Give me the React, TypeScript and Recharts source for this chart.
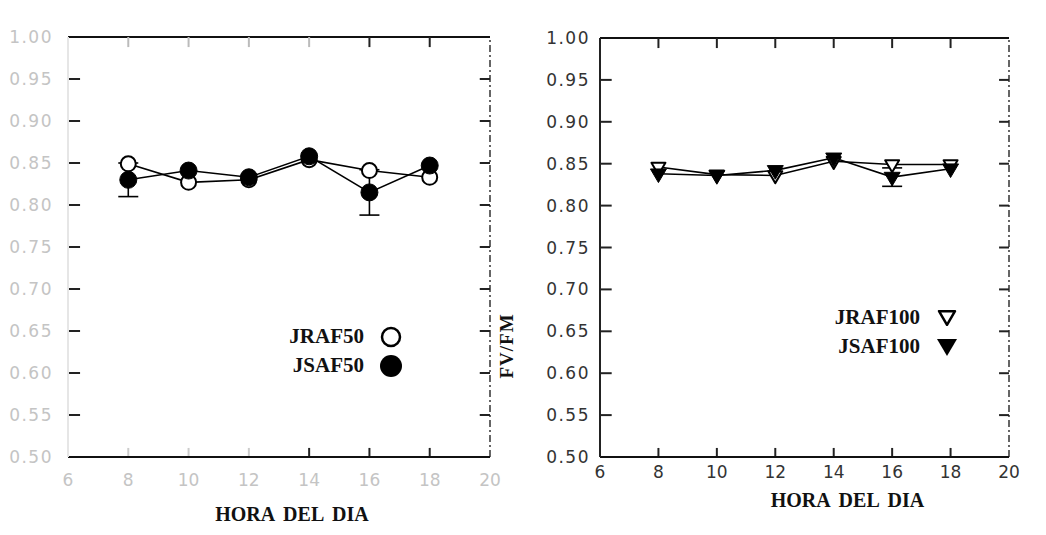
import React from 'react';
import { LineChart, Line, XAxis, YAxis, ErrorBar, ReferenceLine } from 'recharts';

// hora del dia
const hours = [8, 10, 12, 14, 16, 18];
const xTicks = [6, 8, 10, 12, 14, 16, 18, 20];
const innerXTicks = [8, 10, 12, 14, 16, 18];
const yTicks = [0.5, 0.55, 0.6, 0.65, 0.7, 0.75, 0.8, 0.85, 0.9, 0.95, 1.0];
const innerYTicks = [0.55, 0.6, 0.65, 0.7, 0.75, 0.8, 0.85, 0.9, 0.95];

// FV/FM, 50% series
const jraf50 = [0.849, 0.827, 0.830, 0.854, 0.841, 0.833];
const jsaf50 = [0.830, 0.841, 0.833, 0.858, 0.815, 0.847];
const jsaf50Err = [0.020, 0, 0, 0, 0.027, 0];

// FV/FM, 100% series
const jraf100 = [0.846, 0.837, 0.836, 0.853, 0.849, 0.849];
const jsaf100 = [0.838, 0.836, 0.842, 0.857, 0.834, 0.844];
const jsaf100Err = [0, 0, 0, 0, 0.011, 0];

const data50 = hours.map((h, i) => ({ hora: h, JRAF50: jraf50[i], JSAF50: jsaf50[i], err: jsaf50Err[i] }));
const data100 = hours.map((h, i) => ({ hora: h, JRAF100: jraf100[i], JSAF100: jsaf100[i], err: jsaf100Err[i] }));

const serif = '"Liberation Serif", "DejaVu Serif", serif';
const sans = '"DejaVu Sans", sans-serif';
const FADED = '#c4c4c4';
const DARK = '#333';

// tick lengths in axis units (about 10-12 px)
const X_TICK_LEN = 0.4;
const Y_TICK_LEN = 0.012;

const openCircle = (p: any) => (
  <circle key={`o${p.index}`} cx={p.cx} cy={p.cy} r={7.5} fill="#fff" stroke="#000" strokeWidth={2} />
);
const filledCircle = (p: any) => (
  <circle key={`f${p.index}`} cx={p.cx} cy={p.cy} r={8.5} fill="#000" stroke="#000" />
);
const tri = (cx: number, cy: number, s: number) =>
  `${cx - s},${cy - s * 0.6} ${cx + s},${cy - s * 0.6} ${cx},${cy + s * 1.1}`;
const openTri = (p: any) => (
  <polygon key={`ot${p.index}`} points={tri(p.cx, p.cy, 7)} fill="#fff" stroke="#000" strokeWidth={2} strokeLinejoin="round" />
);
const filledTri = (p: any) => (
  <polygon key={`ft${p.index}`} points={tri(p.cx, p.cy, 8)} fill="#000" stroke="#000" strokeLinejoin="round" />
);

const bottomLabelFaded = (p: any) => (
  <text x={p.x} y={p.y} dy={13} textAnchor="middle" fill={FADED} fontFamily={sans} fontSize={17}>{p.payload.value}</text>
);
const bottomLabelDark = (p: any) => (
  <text x={p.x} y={p.y} dy={13} textAnchor="middle" fill={DARK} fontFamily={sans} fontSize={17}>{p.payload.value}</text>
);
const leftLabelFaded = (p: any) => (
  <text x={p.x} y={p.y} dy={6} textAnchor="end" fill={FADED} fontFamily={sans} fontSize={17} letterSpacing={1.5}>
    {Number(p.payload.value).toFixed(2)}
  </text>
);
const leftLabelDark = (p: any) => (
  <text x={p.x} y={p.y} dy={6} textAnchor="end" fill={DARK} fontFamily={sans} fontSize={17} letterSpacing={1.5}>
    {Number(p.payload.value).toFixed(2)}
  </text>
);

const Panel = ({ data, keys, left, width, yAxisW, faded, leftLineColor, top, right, dots, xLabelMargin, yLabelMargin, titleOffset, titleDx }: any) => (
  <div style={{ position: 'absolute', left, top: 0 }}>
    <LineChart width={width} height={535} data={data} margin={{ top, right, left: 0, bottom: 0 }}>
      <XAxis
        xAxisId="b" dataKey="hora" type="number" domain={[6, 20]} ticks={xTicks}
        height={78} tickSize={0} tickMargin={xLabelMargin} tickLine={false}
        axisLine={{ stroke: '#111', strokeWidth: 2 }}
        tick={faded ? bottomLabelFaded : bottomLabelDark}
        label={{ value: 'HORA DEL DIA', position: 'insideBottom', offset: titleOffset, dx: titleDx, style: { fontFamily: serif, fontWeight: 'bold', fontSize: 20, fill: '#111', wordSpacing: 4 } }}
      />
      <YAxis
        yAxisId="l" type="number" domain={[0.5, 1.0]} ticks={yTicks} width={yAxisW}
        tickSize={0} tickMargin={yLabelMargin} tickLine={false}
        axisLine={{ stroke: leftLineColor, strokeWidth: 2 }}
        tick={faded ? leftLabelFaded : leftLabelDark}
      />
      <ReferenceLine xAxisId="b" yAxisId="l" y={1.0} stroke="#111" strokeWidth={2} ifOverflow="visible" />
      <ReferenceLine xAxisId="b" yAxisId="l" x={20} stroke="#333" strokeWidth={1.5} strokeDasharray="7 3 2 3" ifOverflow="visible" />
      {innerYTicks.map((v) => (
        <ReferenceLine key={`l${v}`} xAxisId="b" yAxisId="l" ifOverflow="visible" stroke="#222" strokeWidth={2}
          segment={[{ x: 6, y: v }, { x: 6 + X_TICK_LEN, y: v }]} />
      ))}
      {innerYTicks.map((v) => (
        <ReferenceLine key={`r${v}`} xAxisId="b" yAxisId="l" ifOverflow="visible" stroke="#222" strokeWidth={2}
          segment={[{ x: 20 - X_TICK_LEN * 0.85, y: v }, { x: 20, y: v }]} />
      ))}
      {innerXTicks.map((h) => (
        <ReferenceLine key={`t${h}`} xAxisId="b" yAxisId="l" ifOverflow="visible" stroke={faded && h < 16 ? '#bbb' : '#222'} strokeWidth={2}
          segment={[{ x: h, y: 1.0 }, { x: h, y: 1.0 - Y_TICK_LEN }]} />
      ))}
      {innerXTicks.map((h) => (
        <ReferenceLine key={`b${h}`} xAxisId="b" yAxisId="l" ifOverflow="visible" stroke={faded && h < 14 ? '#ccc' : '#222'} strokeWidth={2}
          segment={[{ x: h, y: 0.5 }, { x: h, y: 0.5 + Y_TICK_LEN * 0.9 }]} />
      ))}
      <Line xAxisId="b" yAxisId="l" dataKey={keys[0]} stroke="#000" strokeWidth={1.6} dot={dots[0]} activeDot={false} isAnimationActive={false} />
      <Line xAxisId="b" yAxisId="l" dataKey={keys[1]} stroke="#000" strokeWidth={1.6} dot={dots[1]} activeDot={false} isAnimationActive={false}>
        <ErrorBar dataKey="err" width={10} stroke="#000" strokeWidth={1.6} direction="y" />
      </Line>
    </LineChart>
  </div>
);

const LegendBlock = ({ left, top, rows }: { left: number; top: number; rows: { name: string; icon: React.ReactNode }[] }) => (
  <div style={{ position: 'absolute', left, top, fontFamily: serif, fontWeight: 'bold', fontSize: 21, color: '#111' }}>
    {rows.map((r) => (
      <div key={r.name} style={{ display: 'flex', alignItems: 'center', height: 29 }}>
        <span style={{ width: 92, textAlign: 'right' }}>{r.name}</span>
        <svg width={26} height={26} style={{ marginLeft: 14 }}>{r.icon}</svg>
      </div>
    ))}
  </div>
);

const dots50 = [openCircle, filledCircle];
const dots100 = [openTri, filledTri];

export default function App() {
  return (
    <div style={{ position: 'absolute', left: 0, top: 0, width: 1046, height: 535, background: '#fff', overflow: 'hidden' }}>
      <Panel
        data={data50} keys={['JRAF50', 'JSAF50']} left={0} width={530} yAxisW={68} top={37} right={40}
        faded leftLineColor="#e6e6e6"
        dots={dots50} xLabelMargin={16} yLabelMargin={15} titleOffset={14} titleDx={13}
      />
      <Panel
        data={data100} keys={['JRAF100', 'JSAF100']} left={530} width={516} yAxisW={70} top={38} right={37}
        faded={false} leftLineColor="#222"
        dots={dots100} xLabelMargin={8} yLabelMargin={10} titleOffset={28} titleDx={43}
      />
      <LegendBlock
        left={272} top={322}
        rows={[
          { name: 'JRAF50', icon: <circle cx={13} cy={13} r={9} fill="#fff" stroke="#000" strokeWidth={2.5} /> },
          { name: 'JSAF50', icon: <circle cx={13} cy={13} r={11} fill="#000" /> },
        ]}
      />
      <LegendBlock
        left={828} top={303}
        rows={[
          { name: 'JRAF100', icon: <polygon points={tri(13, 11, 8)} fill="#fff" stroke="#000" strokeWidth={2.5} strokeLinejoin="round" /> },
          { name: 'JSAF100', icon: <polygon points={tri(13, 11, 10)} fill="#000" /> },
        ]}
      />
      <div
        style={{
          position: 'absolute', left: 507, top: 346, transform: 'translate(-50%, -50%) rotate(-90deg)',
          fontFamily: serif, fontWeight: 'bold', fontSize: 19, letterSpacing: 1, color: '#111', whiteSpace: 'nowrap',
        }}
      >
        FV/FM
      </div>
    </div>
  );
}
